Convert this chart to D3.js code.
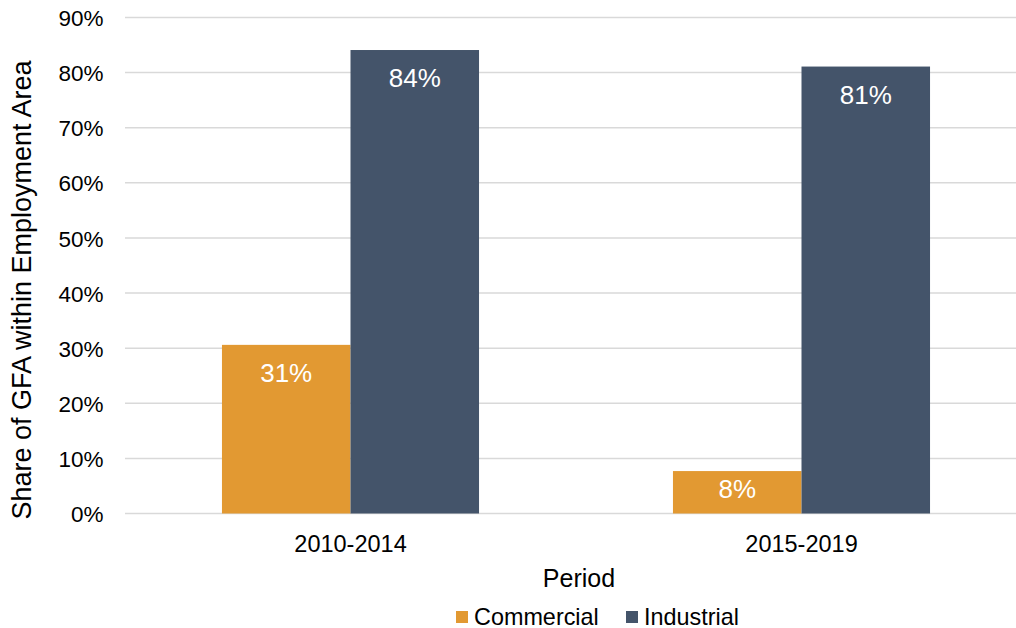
<!DOCTYPE html>
<html><head><meta charset="utf-8">
<script src="https://cdn.jsdelivr.net/npm/d3@7"></script>
<style>body{margin:0;background:#fff}svg{display:block;font-family:"Liberation Sans",Arial,sans-serif}</style>
</head><body><svg id="c" width="1016" height="628"></svg>
<script>
const categories = ["2010-2014", "2015-2019"];
const seriesNames = ["Commercial", "Industrial"];
const commercial = [30.6, 7.7];
const industrial = [84.1, 81.1];
const commercialLabels = ["31%", "8%"];
const industrialLabels = ["84%", "81%"];
const yTicks = [0,10,20,30,40,50,60,70,80,90];
const colors = ["#E29932", "#44546A"];

const svg = d3.select("#c");
const y = d3.scaleLinear().domain([0, 90]).range([513.5, 17.5]);
const x0 = d3.scaleBand().domain(categories).range([125, 1027]).paddingInner(0.43).paddingOuter(0.215);
const x1 = d3.scaleBand().domain(seriesNames).range([0, x0.bandwidth()]);

// grid
svg.append("g").selectAll("line").data(yTicks).join("line")
  .attr("x1", 125).attr("x2", 1027)
  .attr("y1", d => y(d)).attr("y2", d => y(d))
  .attr("stroke", "#d9d9d9").attr("stroke-width", 1.5);

// y axis labels
const yAxis = d3.axisLeft(y).tickValues(yTicks).tickFormat(d => d + "%").tickSize(0).tickPadding(0);
const ya = svg.append("g").attr("transform", "translate(103.5,0)").call(yAxis);
ya.select(".domain").remove();
ya.selectAll("text").attr("font-size", 22.5).attr("fill", "#000").attr("font-family", "Liberation Sans, Arial, sans-serif").attr("dy", "0.36em");

// bars
const data = categories.map((c, i) => ({cat: c, items: [
  {s: seriesNames[0], v: commercial[i], j: 0, lab: commercialLabels[i]},
  {s: seriesNames[1], v: industrial[i], j: 1, lab: industrialLabels[i]}]}));
const groups = svg.append("g").selectAll("g").data(data).join("g")
  .attr("transform", d => `translate(${x0(d.cat)},0)`);
groups.selectAll("rect").data(d => d.items).join("rect")
  .attr("x", d => x1(d.s)).attr("width", x1.bandwidth())
  .attr("y", d => y(d.v)).attr("height", d => y(0) - y(d.v))
  .attr("fill", d => colors[d.j]);
groups.selectAll("text.v").data(d => d.items).join("text")
  .attr("class", "v")
  .attr("x", e => x1(e.s) + x1.bandwidth() / 2)
  .attr("y", e => { const top = y(e.v), h = y(0) - top; return h > 70 ? top + 37 : top + h / 2 + 6; })
  .attr("text-anchor", "middle").attr("font-size", 26).attr("fill", "#fff")
  .text(e => e.lab);

// x axis labels
const xAxis = d3.axisBottom(x0).tickSize(0).tickPadding(0);
const xa = svg.append("g").attr("transform", "translate(0,552)").call(xAxis);
xa.select(".domain").remove();
xa.selectAll("text").attr("font-size", 23.5).attr("fill", "#000").attr("font-family", "Liberation Sans, Arial, sans-serif").attr("dy", 0);

// axis titles
svg.append("text").attr("x", 579).attr("y", 587).attr("text-anchor", "middle")
  .attr("font-size", 25).attr("fill", "#000").text("Period");
svg.append("text").attr("transform", "translate(31,290) rotate(-90)").attr("text-anchor", "middle")
  .attr("font-size", 27).attr("fill", "#000").text("Share of GFA within Employment Area");

// legend
const legX = [456, 626];
const lg = svg.append("g").selectAll("g").data(seriesNames).join("g")
  .attr("transform", (d, i) => `translate(${legX[i]},611)`);
lg.append("rect").attr("width", 12).attr("height", 12).attr("fill", (d, i) => colors[i]);
lg.append("text").attr("x", 18).attr("y", 13.5).attr("font-size", 23.4).attr("fill", "#000").text(d => d);
</script></body></html>
